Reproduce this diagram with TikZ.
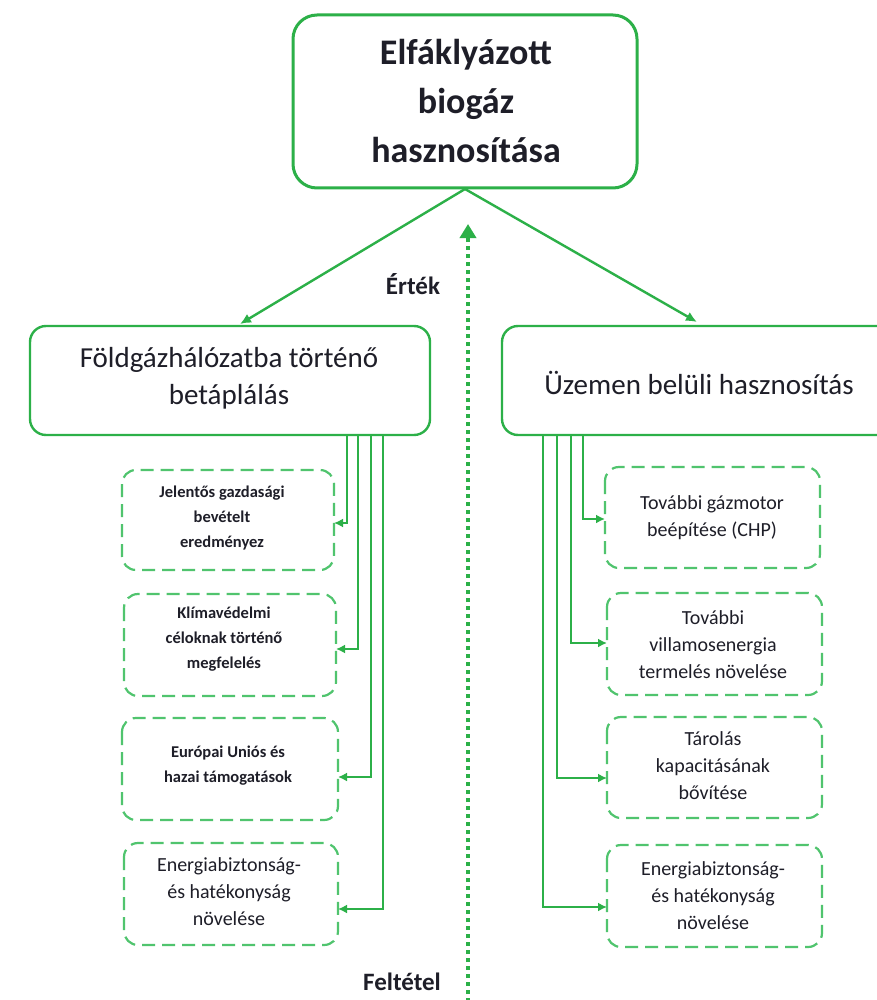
\documentclass[tikz,border=0pt]{standalone}
\usepackage{fontspec}
\setmainfont{Carlito}
\usetikzlibrary{arrows.meta}
\definecolor{leaf}{RGB}{44,176,72}
\definecolor{leafdash}{RGB}{80,196,110}
\definecolor{ink}{RGB}{30,30,40}
\begin{document}
\begin{tikzpicture}[x=1pt,y=-1pt,
  mainbox/.style={draw=leaf,line width=3pt,rounded corners=24pt,fill=white},
  subbox/.style={draw=leaf,line width=2.4pt,rounded corners=16pt,fill=white},
  optbox/.style={draw=leafdash,line width=2.2pt,dash pattern=on 13pt off 7pt,rounded corners=14pt},
  link/.style={draw=leaf,line width=2.4pt,-{Latex[length=11pt,width=10pt]}},
  feed/.style={draw=leaf,line width=2pt,-{Latex[length=9pt,width=9pt]}},
  txt/.style={text=ink,align=center,inner sep=0pt},
  boldsmall/.style={txt,font=\bfseries\fontsize{16.5}{25}\selectfont},
  plainsmall/.style={txt,font=\fontsize{20}{27}\selectfont},
  axislabel/.style={txt,font=\bfseries\fontsize{25}{28}\selectfont}
]
\useasboundingbox (0,0) rectangle (877,1000);
\clip (0,0) rectangle (877,1000);
\fill[white] (0,0) rectangle (877,1000);

% top node
\draw[mainbox] (293,15) rectangle (637,188);
\node[txt,font=\bfseries\fontsize{36}{49}\selectfont] (top) at (466,101)
  {Elfáklyázott\\biogáz\\hasznosítása};
\coordinate (topb) at (465,189);

% second level
\draw[subbox] (30,326) rectangle (430,435);
\node[txt,font=\fontsize{29}{37}\selectfont] (grid) at (229,378)
  {Földgázhálózatba történő\\betáplálás};
\draw[subbox] (502,326) rectangle (900,435);
\node[txt,font=\fontsize{29}{37}\selectfont] (plant) at (699,383)
  {Üzemen belüli hasznosítás};
\coordinate (gridt) at (240,324);
\coordinate (plantt) at (697,322);

\draw[link] (topb) -- (gridt);
\draw[link] (topb) -- (plantt);

% left option boxes
\draw[optbox] (122,470) rectangle (334,570);
\node[boldsmall] (l1) at (222,518)
  {Jelentős gazdasági\\bevételt\\eredményez};
\draw[optbox] (124,594) rectangle (336,696);
\node[boldsmall] (l2) at (224,639)
  {Klímavédelmi\\céloknak történő\\megfelelés};
\draw[optbox] (122,718) rectangle (338,820);
\node[boldsmall] (l3) at (228,766)
  {Európai Uniós és\\hazai támogatások};
\draw[optbox] (124,843) rectangle (338,945);
\node[plainsmall] (l4) at (229,892)
  {Energiabiztonság-\\és hatékonyság\\növelése};

\coordinate (l1e) at (334,523);
\coordinate (l2e) at (336,649);
\coordinate (l3e) at (338,777);
\coordinate (l4e) at (338,909);
\draw[feed] (347,435) |- (l1e);
\draw[feed] (358,435) |- (l2e);
\draw[feed] (371,435) |- (l3e);
\draw[feed] (383,435) |- (l4e);

% right option boxes
\draw[optbox] (605,467) rectangle (820,568);
\node[plainsmall] (r1) at (712,518)
  {További gázmotor\\beépítése (CHP)};
\draw[optbox] (607,593) rectangle (822,695);
\node[plainsmall] (r2) at (713,645)
  {További\\villamosenergia\\termelés növelése};
\draw[optbox] (607,717) rectangle (822,818);
\node[plainsmall] (r3) at (713,766)
  {Tárolás\\kapacitásának\\bővítése};
\draw[optbox] (607,845) rectangle (822,947);
\node[plainsmall] (r4) at (713,896)
  {Energiabiztonság-\\és hatékonyság\\növelése};

\coordinate (r1e) at (605,519);
\coordinate (r2e) at (607,643);
\coordinate (r3e) at (607,778);
\coordinate (r4e) at (607,907);
\draw[feed] (583,435) |- (r1e);
\draw[feed] (571,435) |- (r2e);
\draw[feed] (557,435) |- (r3e);
\draw[feed] (543,435) |- (r4e);

% value / condition axis
\coordinate (axb) at (468,1002);
\coordinate (axt) at (468,224);
\draw[draw=leaf,line width=4pt,dash pattern=on 4pt off 4pt,
  -{Triangle[length=14pt,width=16pt]}] (axb) -- (axt);
\node[axislabel] (val) at (413,284) {Érték};
\node[axislabel] (cond) at (402,982) {Feltétel};
\end{tikzpicture}
\end{document}
